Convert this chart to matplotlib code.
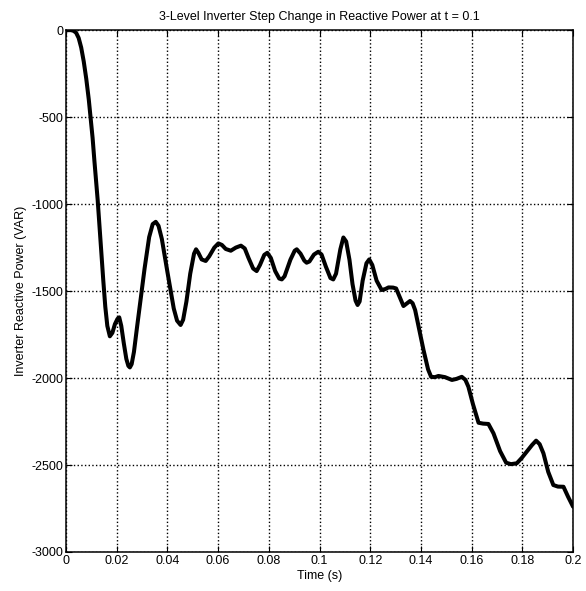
import matplotlib
matplotlib.use('Agg')
import matplotlib.pyplot as plt

# values
time_s = [0.0, 0.002, 0.003, 0.004, 0.005, 0.006, 0.007, 0.008, 0.009, 0.0097,
          0.0105, 0.0112, 0.0125, 0.0137, 0.0147, 0.0155, 0.0163, 0.0173, 0.0183, 0.0193,
          0.0203, 0.021, 0.0218, 0.0228, 0.0238, 0.0246, 0.0252, 0.0259, 0.0268, 0.028,
          0.031, 0.0328, 0.0342, 0.0354, 0.0365, 0.0378, 0.040, 0.0425, 0.0438, 0.0452,
          0.0462, 0.0475, 0.049, 0.0505, 0.0513, 0.0522, 0.0535, 0.0551, 0.0565, 0.0585,
          0.0601, 0.0615, 0.063, 0.065, 0.067, 0.069, 0.0705, 0.072, 0.0738, 0.0752,
          0.0765, 0.0782, 0.0794, 0.0808, 0.0825, 0.0841, 0.0851, 0.0862, 0.0885, 0.0902,
          0.091, 0.0925, 0.094, 0.0949, 0.096, 0.0978, 0.0995, 0.1008, 0.1025, 0.1043,
          0.1054, 0.1065, 0.1082, 0.1094, 0.1105, 0.1118, 0.113, 0.1142, 0.115, 0.1158,
          0.117, 0.1185, 0.1196, 0.1208, 0.1225, 0.1245, 0.126, 0.1272, 0.129, 0.1302,
          0.1318, 0.1331, 0.1345, 0.1357, 0.1367, 0.1377, 0.139, 0.141, 0.1428, 0.144,
          0.1455, 0.1469, 0.1495, 0.1522, 0.154, 0.1561, 0.1575, 0.1587, 0.1605, 0.1627,
          0.1645, 0.1666, 0.1686, 0.1712, 0.1736, 0.1755, 0.1778, 0.1797, 0.1817, 0.1838,
          0.1854, 0.1868, 0.1883, 0.1902, 0.1922, 0.194, 0.1962, 0.198, 0.2]
q_var = [0, 0, -4, -15, -45, -100, -180, -280, -400, -500,
         -620, -750, -977, -1230, -1437, -1590, -1700, -1760, -1740, -1690,
         -1660, -1651, -1700, -1800, -1890, -1930, -1939, -1920, -1850, -1710,
         -1370, -1190, -1115, -1102, -1125, -1200, -1390, -1600, -1670, -1695,
         -1665, -1560, -1400, -1285, -1260, -1280, -1318, -1327, -1300, -1250,
         -1226, -1235, -1258, -1268, -1250, -1239, -1255, -1310, -1370, -1385,
         -1350, -1292, -1280, -1310, -1385, -1428, -1433, -1415, -1320, -1268,
         -1260, -1285, -1325, -1337, -1330, -1290, -1274, -1290, -1360, -1425,
         -1433, -1400, -1260, -1192, -1215, -1320, -1460, -1555, -1580, -1560,
         -1440, -1340, -1318, -1350, -1440, -1494, -1488, -1479, -1480, -1485,
         -1540, -1586, -1570, -1557, -1570, -1609, -1700, -1839, -1950, -1993,
         -1995, -1988, -1995, -2011, -2005, -1993, -2010, -2050, -2150, -2257,
         -2262, -2264, -2318, -2420, -2487, -2495, -2490, -2460, -2423, -2385,
         -2360, -2380, -2433, -2540, -2615, -2624, -2625, -2682, -2740]

x_ticks = [0, 0.02, 0.04, 0.06, 0.08, 0.1, 0.12, 0.14, 0.16, 0.18, 0.2]
x_labels = ['0', '0.02', '0.04', '0.06', '0.08', '0.1', '0.12', '0.14', '0.16', '0.18', '0.2']
y_ticks = [-3000, -2500, -2000, -1500, -1000, -500, 0]

plt.rcParams['font.family'] = ['Liberation Sans Narrow', 'Liberation Sans', 'DejaVu Sans']

fig = plt.figure(figsize=(5.86, 5.91), dpi=100)
ax = fig.add_axes([0.1126, 0.066, 0.8654, 0.883])

ax.plot(time_s, q_var, color='black', linewidth=2.9,
        solid_joinstyle='round', solid_capstyle='round')

ax.set_xlim(0, 0.2)
ax.set_ylim(-3000, 0)
ax.set_xticks(x_ticks)
ax.set_xticklabels(x_labels)
ax.set_yticks(y_ticks)
ax.set_yticklabels([str(v) for v in y_ticks])
ax.tick_params(direction='in', top=True, right=True, length=4, labelsize=9, pad=2)
ax.grid(True, color='black', linestyle=':', linewidth=1.0)
for s in ax.spines.values():
    s.set_linewidth(1.1)

ax.set_title('3-Level Inverter Step Change in Reactive Power at t = 0.1', fontsize=9, pad=7)
ax.set_xlabel('Time (s)', fontsize=9, labelpad=2)
ax.set_ylabel('Inverter Reactive Power (VAR)', fontsize=9, labelpad=3)

fig.savefig('out.png', dpi=100)
